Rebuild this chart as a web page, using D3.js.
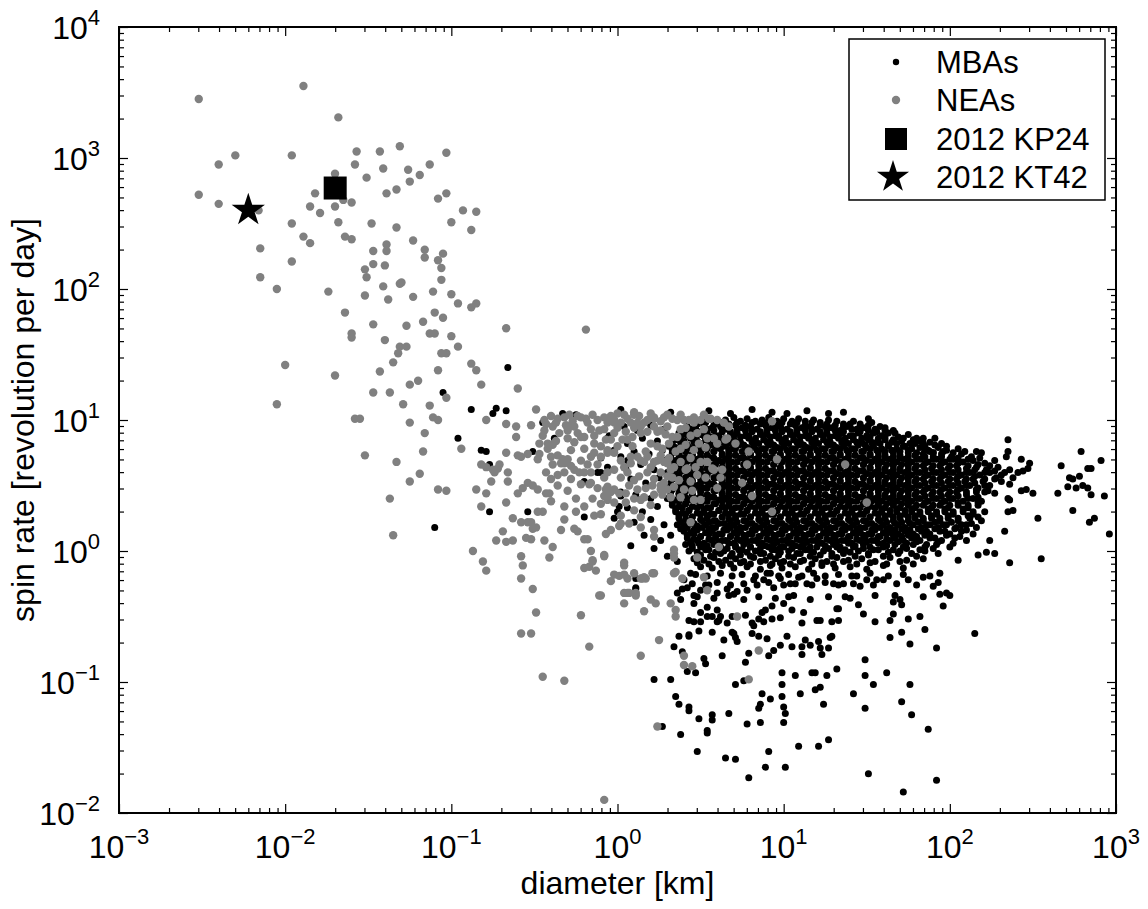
<!DOCTYPE html>
<html>
<head>
<meta charset="utf-8">
<script src="https://cdn.jsdelivr.net/npm/d3@7"></script>
<style>
body { margin: 0; background: #fff; }
text { font-family: "Liberation Sans", Arial, Helvetica, sans-serif; fill: #000; }
</style>
</head>
<body>
<svg id="drawing_region"></svg>
<script>
// values, stored as [log10 diameter (km), log10 spin rate (rev/day)]
const neaLog = [
[-2.52,3.45],[-1.89,3.55],[-1.68,3.31],[-2.30,3.02],[-2.40,2.95],[-1.96,3.02],[-2.52,2.72],[-2.40,2.65],[-2.16,2.60],[-1.70,2.88],[-1.57,3.05],[-1.43,3.05],[-1.58,2.95],[-1.41,2.92],[-1.51,2.85],[-1.39,2.73],[-1.33,2.76],[-1.31,3.09],[-1.82,2.73],[-1.65,2.68],[-1.60,2.66],[-1.85,2.63],[-1.79,2.58],[-1.70,2.63],[-1.96,2.50],[-1.68,2.51],[-1.89,2.40],[-1.85,2.35],[-1.64,2.40],[-1.60,2.38],[-1.48,2.50],[-1.33,2.47],[-2.15,2.31],[-1.39,2.34],[-1.47,2.29],[-1.39,2.29],[-1.96,2.21],[-1.47,2.19],[-1.40,2.18],[-1.52,2.15],[-1.51,2.09],[-2.15,2.09],[-2.05,2.00],[-1.74,1.98],[-1.41,2.02],[-1.52,1.95],[-1.31,2.04],
[-1.03,3.04],[-1.13,2.95],[-1.26,2.91],[-1.19,2.87],[-1.25,2.82],[-1.08,2.69],[-1.03,2.73],[-0.93,2.60],[-0.85,2.59],[-1.00,2.51],[-0.88,2.45],[-1.23,2.37],[-1.16,2.30],[-1.05,2.27],[-1.16,2.24],[-1.08,2.22],[-1.06,2.16],[-1.06,2.07],[-1.30,2.05],[-1.11,1.98],[-1.00,1.96],[-0.96,1.89],[-0.88,1.86],[-0.85,1.89],[-1.23,1.94],[-1.38,1.92],[-1.64,1.82],[-1.47,1.73],[-1.60,1.66],[-1.60,1.63],[-1.40,1.61],[-1.27,1.72],[-1.17,1.75],[-1.10,1.82],[-1.05,1.78],[-1.13,1.66],[-1.10,1.66],[-1.00,1.64],[-0.96,1.56],[-1.31,1.56],[-1.27,1.56],[-1.32,1.51],[-1.06,1.51],[-1.03,1.51],[-1.35,1.44],[-1.43,1.37],[-1.08,1.38],[-0.88,1.43],[-0.85,1.38],[-0.82,1.27],[-2.00,1.42],[-1.70,1.34],[-1.25,1.27],[-1.20,1.30],[-1.47,1.21],[-1.37,1.21],[-2.05,1.12],[-1.29,1.12],[-1.13,1.11],[-1.03,1.17],[-1.58,1.01],[-1.55,1.01],[-1.11,1.02],[-1.08,1.00],[-0.79,1.00],[-1.25,0.98],[-1.16,0.90],[-0.94,0.78],[-0.82,0.66],[-0.79,0.64],[-0.75,0.62],[-1.17,0.76],[-1.52,0.73],[-1.33,0.68],[-1.19,0.59],[-1.25,0.53],[-0.76,0.53],[-1.08,0.47],[-1.03,0.46],[-0.85,0.47],[-0.79,0.44],[-1.37,0.40],[-0.82,0.34],[-1.35,0.12],[-0.73,0.08],[-0.87,0.00],[-0.81,-0.08],[-0.79,-0.15],
[-0.19,1.69],[-0.67,1.70],[-0.60,1.24],[-0.49,1.08],[-0.71,0.66],[-0.72,0.63],[-0.74,0.60],[-0.67,0.75],[-0.67,0.97],[-0.61,0.95],[-0.52,0.96],[-0.61,0.87],[-0.66,0.60],[-0.66,0.53],[-0.60,0.73],[-0.58,0.72],[-0.54,0.74],[-0.67,0.37],[-0.60,0.44],[-0.57,0.48],[-0.54,0.52],[-0.51,0.50],[-0.48,0.47],[-0.43,0.44],[-0.41,0.44],[-0.63,0.25],[-0.58,0.22],[-0.54,0.22],[-0.52,0.22],[-0.49,0.18],[-0.51,0.17],[-0.48,0.30],[-0.45,0.30],[-0.69,0.15],[-0.67,0.07],[-0.63,0.08],[-0.55,0.10],[-0.52,0.09],[-0.44,0.08],[-0.39,0.03],[-0.41,-0.05],[-0.58,-0.04],[-0.57,-0.11],[-0.58,-0.21],[-0.51,-0.29],
[-0.32,0.24],[-0.26,0.17],[-0.24,0.15],[-0.20,0.09],[-0.18,0.09],[-0.34,0.16],[-0.16,0.00],[-0.15,-0.07],[-0.08,-0.04],[-0.20,-0.13],[-0.17,-0.12],[-0.10,-0.34],[-0.04,-0.23],[0.01,-0.19],[0.04,-0.11],[0.07,-0.32],[0.11,-0.32],[0.14,-0.21],[0.17,-0.21],[0.22,-0.17],[-0.07,0.13],[-0.04,0.16],[0.01,0.19],[0.07,0.21],[-0.20,0.34],[-0.14,0.27],[-0.10,0.36],[-0.06,0.39],[-0.04,0.45],[-0.08,0.42],[0.01,0.44],[-0.02,0.47],[0.05,0.37],[0.14,0.39],[-0.07,0.47],[-0.17,0.51],[-0.22,0.51],[-0.16,0.52],[-0.23,0.60],[-0.20,0.60],[-0.16,0.60],[-0.32,0.60],[-0.34,0.67],[-0.28,0.65],[-0.26,0.62],[-0.43,0.60],[-0.39,0.66],[-0.36,0.58],[-0.32,0.67],[-0.48,0.70],[-0.47,0.74],[-0.40,0.72],[-0.42,0.78],[-0.39,0.81],[-0.36,0.73],[-0.33,0.70],[-0.47,0.82],[-0.42,0.82],[-0.43,0.97],[-0.39,0.95],[-0.37,0.98],[-0.31,0.96],[-0.29,0.95],[-0.26,0.95],[-0.26,0.83],[-0.22,0.87],[-0.20,0.87],[-0.32,1.02],[-0.29,1.04],[-0.22,1.02],[-0.18,0.98],[-0.11,0.92],[-0.06,0.98],[-0.02,0.98],[0.02,0.98],[0.08,0.98],[0.12,0.98],[0.14,0.95],[-0.07,0.85],[-0.04,0.85],[0.03,0.85],[0.09,0.87],[0.10,1.04],[0.18,1.00],[0.22,1.02],[0.30,1.04],[0.36,1.00],[0.46,1.02],[-0.22,0.69],[-0.16,0.72],[-0.10,0.72],[-0.06,0.75],[-0.06,0.60],[-0.02,0.62],[0.04,0.64],[0.08,0.67],[0.14,0.69],[0.18,0.72],[0.24,0.69],[0.30,0.67],
[0.26,0.92],[0.33,0.87],[0.41,0.94],[0.48,0.90],[0.20,0.82],[0.27,0.78],[0.35,0.76],[0.44,0.71],[0.50,0.68],[0.57,0.63],[0.63,0.62],[0.41,0.62],[0.33,0.56],[0.44,0.53],[0.53,0.56],[0.26,0.50],[0.17,0.48],[0.20,0.35],[0.27,0.43],[0.10,0.31],[0.02,0.27],
[0.79,0.76],[0.78,0.66],[0.96,0.70],[0.75,0.52],[0.81,0.42],[0.93,0.30],[0.71,0.82],[0.65,0.85],[0.60,0.82],[0.54,0.86],[0.49,0.82],[0.67,0.95],[0.55,1.01],[0.50,1.00],[0.93,0.99],
[0.14,0.26],[0.02,0.21],[0.04,-0.09],[-0.08,-0.03],[0.34,0.01],[0.34,-0.05],[0.48,-0.05],[0.61,0.03],[0.44,0.22],[0.22,0.16],[0.22,0.11],[0.14,0.18],[-0.06,0.49],[-0.06,0.41],[-0.02,0.37],[0.16,0.41],[0.26,0.47],[0.30,0.47],[0.28,0.52],[0.40,0.47],[0.38,0.41],[0.46,0.39],[0.50,0.39],[0.60,0.48],
[0.02,0.56],[0.10,0.54],[0.18,0.60],[0.26,0.60],[0.34,0.64],[0.42,0.63],[0.58,0.62],[0.62,0.56],
[-0.08,1.02],[-0.02,1.00],[0.04,1.04],[0.10,1.06],[0.16,0.98],[0.22,1.01],[0.28,1.02],[0.30,0.95],[0.14,0.90],[0.24,0.91],[0.36,0.87],[0.41,0.81],[-0.02,0.90],[0.06,0.85],[-0.06,0.77],[-0.02,0.75],[0.12,0.72],[0.16,0.68],[0.22,0.68],[0.28,0.68],[0.32,0.62],
[0.64,0.98],[0.56,1.01],[0.46,0.98],[0.40,1.00],[0.58,0.86],[0.66,0.86],[1.37,0.66],[1.50,0.37],
[-0.02,-0.18],[0.04,-0.18],[0.06,-0.21],[0.10,-0.17],[0.15,-0.21],[0.21,-0.17],[0.16,-0.20],[0.04,-0.32],[0.06,-0.32],[0.11,-0.34],[0.04,-0.40],[0.20,-0.37],[0.23,-0.40],[0.16,-0.46],[0.32,-0.40],[0.35,-0.45],[0.35,-0.50],[0.25,-0.68],[0.14,-0.80],[0.40,-0.80],[0.40,-0.87],[0.45,-0.88],[0.24,-1.34],[-0.08,-1.90],[0.72,-0.50],[0.54,-0.30],[0.52,-0.20],[0.34,-0.17],[0.39,-0.21],[0.85,-0.76],[0.79,-0.98],
[-0.49,-0.47],[-0.58,-0.63],[-0.52,-0.63],[-0.45,-0.96],[-0.32,-0.99],[-0.22,-0.49],[-0.17,-0.73],[-0.11,-0.34],[-0.15,-0.08],[-0.13,-0.15],[0.34,-0.02],[0.35,-0.16]
];

// NEAs packed along the ~10 rev/day barrier and the band below it
const neaBandLog = [
[-0.44,1.00],[-0.40,1.03],[-0.36,1.01],[-0.27,0.99],[-0.24,1.03],[-0.19,1.01],[-0.15,1.04],[-0.12,1.00],[-0.04,1.03],[0.00,1.05],[0.06,1.01],[0.13,1.03],[0.20,1.05],[0.26,0.99],[0.33,1.01],[0.38,1.04],[0.43,1.00],[0.52,1.04],[0.60,1.00],
[-0.44,0.92],[-0.35,0.90],[-0.30,0.92],[-0.24,0.90],[-0.16,0.93],[-0.14,0.88],[-0.08,0.93],[0.00,0.94],[0.05,0.91],[0.10,0.94],[0.18,0.91],[0.22,0.95],[0.29,0.89],[0.38,0.93],[0.44,0.88],[0.52,0.93],
[0.00,0.80],[0.09,0.80],[0.17,0.76],[0.24,0.80],[0.31,0.82],[0.38,0.78],[0.46,0.77],[0.53,0.79],[0.02,0.69],[0.08,0.72],[0.20,0.64],[0.26,0.73],[0.31,0.71],[0.38,0.68],[0.47,0.64],[0.54,0.68],[0.06,0.60],[0.13,0.57],[0.22,0.55],[0.30,0.57],[0.37,0.54],[0.48,0.58],[0.07,0.50],[0.12,0.47],[0.21,0.50],[0.34,0.49],[0.45,0.46],[0.05,0.44],[0.10,0.40],[0.22,0.43],[0.32,0.41],
[-0.45,0.88],[-0.37,0.84],[-0.30,0.86],[-0.14,0.82],[-0.10,0.80],[-0.28,0.77],[-0.20,0.78],[-0.14,0.75],[-0.30,0.70],[-0.18,0.66],[-0.12,0.66],[-0.08,0.56],[-0.28,0.55],[-0.40,0.55],[-0.12,0.48],[-0.30,0.46],[-0.36,0.50],[-0.25,0.40],[-0.15,0.40],[-0.32,0.34],[-0.25,0.30],[-0.10,0.28],[-0.40,0.38]
];

// scattered MBAs away from the main cloud
const mbaSparseLog = [
[-1.05,1.21],[-0.88,1.08],[-0.75,1.05],[-0.73,1.09],[-0.67,1.07],[-0.96,0.86],[-0.82,0.77],[-0.79,0.76],[-0.77,0.66],[-0.77,0.30],[-1.10,0.18],[-0.54,0.30],[-0.66,1.40],[-0.51,0.76],[-0.33,1.05],[-0.25,1.04],[-0.45,0.98],[-0.38,0.86],[-0.20,0.53],[-0.20,0.26],[0.02,0.42],[0.00,0.30],[0.01,0.34],[0.11,-0.21],[0.11,-0.29],[0.02,1.08],[-0.06,0.86],[-0.10,0.71],[-0.12,0.60],[-0.02,0.77],[-0.06,0.64],[0.06,0.69],[0.27,-1.34],
[0.11,-0.28],[0.22,-0.98],[0.32,-0.98],[0.34,-0.73],[0.37,-0.65],[0.43,-0.65],[0.39,-0.77],[0.43,-0.53],[0.38,-0.37],[0.36,-0.32],[0.39,-0.29],[0.42,-0.92],[0.47,-0.93],[0.52,-0.82],[0.53,-0.86],[0.35,-1.11],[0.37,-1.17],[0.43,-1.19],[0.43,-1.22],[0.49,-1.28],[0.57,-1.25],[0.57,-1.29],[0.54,-1.37],[0.54,-1.39],[0.38,-1.40],[0.48,-1.53],[0.65,-1.58],[0.71,-1.59],[0.79,-1.73],[0.89,-1.65],[1.01,-1.65],[0.91,-1.53],[1.09,-1.49],[1.21,-1.49],[1.27,-1.44],[0.86,-1.31],[0.67,-1.24],[0.78,-1.32],[1.00,-1.31],[1.01,-1.24],[1.00,-1.19],[0.85,-1.20],[0.86,-1.17],[0.87,-1.09],[0.92,-1.13],[0.99,-1.11],[0.99,-1.02],[0.99,-0.93],[1.07,-0.95],[1.10,-1.09],[1.19,-1.06],[1.22,-1.04],[1.24,-1.17],[1.17,-0.93],[1.19,-0.93],[1.26,-0.95],[1.32,-0.90],[1.42,-1.09],[1.49,-0.83],[1.49,-0.95],[1.54,-1.02],[1.49,-1.20],[1.62,-0.93],[1.71,-1.15],[1.76,-1.02],[1.77,-1.25],[1.87,-1.36],[1.92,-1.75],[1.72,-1.84],[1.51,-1.70],
[0.71,-1.02],[0.76,-0.99],[0.77,-0.85],[0.63,-0.80],[0.79,-0.78],[0.91,-0.80],[0.94,-0.76],[0.98,-0.72],[1.05,-0.73],[1.11,-0.73],[1.16,-0.72],[1.11,-0.79],[1.22,-0.74],[1.23,-0.79],[1.27,-0.74],[1.28,-0.66],[1.29,-0.65],[1.13,-0.68],[1.21,-0.69],[1.02,-0.65],[0.90,-0.67],[0.85,-0.65],[0.81,-0.63],[0.72,-0.69],[0.71,-0.66],[0.64,-0.68],[0.70,-0.63],[0.69,-0.62],[0.57,-0.62],[0.49,-0.61],[0.43,-0.64],[0.60,-0.54],[0.61,-0.53],[0.62,-0.50],[0.66,-0.55],[0.69,-0.50],[0.72,-0.50],[0.77,-0.49],[0.81,-0.55],[0.82,-0.57],[0.85,-0.52],[0.87,-0.47],[0.88,-0.54],[0.89,-0.45],[0.93,-0.52],[0.93,-0.42],[0.98,-0.51],[1.00,-0.40],[1.03,-0.35],[1.05,-0.45],[1.12,-0.47],[1.11,-0.55],[1.20,-0.53],[1.22,-0.53],[1.29,-0.54],[1.33,-0.53],[1.32,-0.44],[1.33,-0.44],[1.37,-0.35],[1.46,-0.27],[1.45,-0.41],[1.48,-0.48],[1.55,-0.54],[1.64,-0.53],[1.66,-0.48],[1.67,-0.34],[1.66,-0.39],[1.71,-0.41],[1.75,-0.52],[1.76,-0.71],[1.82,-0.50],[1.85,-0.60],[1.92,-0.74],[1.94,-0.33],[1.96,-0.42],[1.98,-0.32],[1.75,-0.22],[1.84,-0.20],[1.88,-0.19],[1.90,-0.27],[1.94,-0.17],[1.64,-0.66],[1.71,-0.62],
[1.44,-0.19],[1.50,-0.22],[1.56,-0.22],[1.60,-0.22],[1.36,-0.25],[1.30,-0.25],[1.20,-0.21],[1.14,-0.25],[1.09,-0.20],[1.04,-0.25],[0.98,-0.21],[0.94,-0.28],[0.92,-0.17],[0.88,-0.22],[0.82,-0.22],[0.78,-0.30],[0.72,-0.31],[0.66,-0.29],[0.70,-0.33],[0.60,-0.32],[0.55,-0.26],[0.50,-0.30],[0.46,-0.34],[0.42,-0.28],[0.40,-0.22],[0.44,-0.17],[0.46,-0.40],[0.50,-0.47],[0.54,-0.43],[0.54,-0.50],[0.50,-0.54],[0.46,-0.54],[0.57,-0.50],[0.60,-0.45],
[1.61,0.94],[1.91,0.86],[1.84,0.82],[1.88,0.76],[1.90,0.75],[2.35,0.85],[2.16,0.76],[2.19,0.75],[2.35,0.76],[2.34,0.72],[2.43,0.70],[2.48,0.67],[2.47,0.63],[2.44,0.61],[2.41,0.60],[2.38,0.56],[2.36,0.51],[2.31,0.53],[2.43,0.46],[2.46,0.47],[2.50,0.44],[2.67,0.65],[2.79,0.76],[2.91,0.69],[2.72,0.56],[2.74,0.55],[2.78,0.57],[2.83,0.63],[2.85,0.63],[2.71,0.49],[2.76,0.48],[2.80,0.50],[2.83,0.48],[2.65,0.44],[2.85,0.43],[2.93,0.42],[2.74,0.31],[2.53,0.25],[2.84,0.22],[2.87,0.25],[2.96,0.13],[2.33,0.15],[2.55,-0.06],[2.36,-0.09],[2.27,-0.02],[2.22,-0.01],[2.17,-0.03],[2.35,0.30],[2.38,0.31],[2.35,0.40],[2.36,0.39],[2.27,0.44],[2.23,0.46],[2.15,-0.63],[2.24,0.08],[2.05,-0.07],[2.00,-0.34],[1.93,-0.24],
[0.04,0.95],[0.12,0.92],[0.20,0.96],[0.28,0.93],[0.06,0.82],[0.15,0.86],[0.24,0.84],[0.02,0.72],[0.10,0.76],[0.19,0.74],[0.27,0.77],[0.05,0.63],[0.14,0.66],[0.22,0.62],[0.08,0.55],[0.17,0.52],[0.25,0.56],[0.02,0.45],[0.11,0.43],[0.20,0.40],[0.27,0.45],[0.06,0.33],[0.15,0.30],[0.24,0.34],[0.10,0.22],[0.20,0.24],[0.28,0.20],[0.16,0.12],[0.26,0.08],[0.32,0.12],[0.22,0.02],[0.30,-0.04],[0.36,-0.08],[-0.05,0.88],[-0.10,0.60],[-0.02,0.25],[0.08,0.04]
];

// the dense MBA cloud, read row by row from top to bottom
const mbaCloudLog = [
[0.32,1.06],[0.55,1.07],[0.68,1.05],[0.81,1.08],[0.93,1.06],[1.02,1.05],[1.14,1.07],[1.27,1.05],[1.36,1.06],[1.51,1.01],
[0.46,1.00],[0.51,0.99],[0.56,1.01],[0.60,0.98],[0.65,1.00],[0.70,1.02],[0.74,0.99],[0.78,1.01],[0.83,0.99],[0.87,1.00],[0.91,1.02],[0.96,0.99],[1.00,1.01],[1.05,0.99],[1.09,1.01],[1.13,0.99],[1.18,1.00],[1.22,0.98],[1.27,1.00],[1.32,0.99],[1.36,0.97],[1.42,0.99],[1.46,0.97],[1.53,0.98],
[0.42,0.95],[0.47,0.94],[0.52,0.96],[0.57,0.94],[0.62,0.95],[0.66,0.93],[0.71,0.96],[0.75,0.94],[0.80,0.95],[0.84,0.93],[0.89,0.96],[0.93,0.94],[0.98,0.95],[1.02,0.93],[1.07,0.96],[1.11,0.94],[1.16,0.95],[1.20,0.93],[1.25,0.95],[1.29,0.94],[1.34,0.92],[1.38,0.95],[1.44,0.93],[1.48,0.94],[1.55,0.93],[1.58,0.95],[1.66,0.92],
[0.37,0.90],[0.41,0.89],[0.45,0.91],[0.50,0.89],[0.54,0.90],[0.59,0.88],[0.63,0.91],[0.68,0.89],[0.72,0.90],[0.77,0.88],[0.81,0.91],[0.86,0.89],[0.90,0.90],[0.95,0.88],[0.99,0.91],[1.04,0.89],[1.08,0.90],[1.13,0.88],[1.17,0.91],[1.22,0.89],[1.26,0.90],[1.31,0.88],[1.35,0.90],[1.40,0.88],[1.45,0.90],[1.50,0.88],[1.54,0.90],[1.59,0.88],[1.63,0.90],[1.69,0.87],[1.75,0.89],[1.80,0.86],
[0.36,0.85],[0.40,0.84],[0.44,0.86],[0.48,0.84],[0.53,0.85],[0.57,0.83],[0.61,0.86],[0.66,0.84],[0.70,0.85],[0.74,0.83],[0.79,0.86],[0.83,0.84],[0.88,0.85],[0.92,0.83],[0.97,0.86],[1.01,0.84],[1.06,0.85],[1.10,0.83],[1.15,0.86],[1.19,0.84],[1.24,0.85],[1.28,0.83],[1.33,0.86],[1.37,0.84],[1.42,0.85],[1.47,0.83],[1.51,0.85],[1.56,0.83],[1.61,0.85],[1.65,0.83],[1.71,0.84],[1.76,0.82],[1.82,0.84],[1.88,0.83],[1.95,0.82],
[0.31,0.80],[0.35,0.79],[0.39,0.81],[0.43,0.79],[0.47,0.80],[0.52,0.78],[0.56,0.81],[0.60,0.79],[0.65,0.80],[0.69,0.78],[0.73,0.81],[0.78,0.79],[0.82,0.80],[0.87,0.78],[0.91,0.81],[0.96,0.79],[1.00,0.80],[1.05,0.78],[1.09,0.81],[1.14,0.79],[1.18,0.80],[1.23,0.78],[1.27,0.81],[1.32,0.79],[1.36,0.80],[1.41,0.78],[1.45,0.81],[1.50,0.79],[1.54,0.80],[1.59,0.78],[1.63,0.80],[1.68,0.78],[1.72,0.80],[1.77,0.78],[1.82,0.79],[1.87,0.77],[1.93,0.79],[1.98,0.77],[2.05,0.78],
[0.33,0.75],[0.37,0.74],[0.41,0.76],[0.45,0.74],[0.50,0.75],[0.54,0.73],[0.58,0.76],[0.63,0.74],[0.67,0.75],[0.71,0.73],[0.76,0.76],[0.80,0.74],[0.85,0.75],[0.89,0.73],[0.94,0.76],[0.98,0.74],[1.03,0.75],[1.07,0.73],[1.12,0.76],[1.16,0.74],[1.21,0.75],[1.25,0.73],[1.30,0.76],[1.34,0.74],[1.39,0.75],[1.43,0.73],[1.48,0.76],[1.52,0.74],[1.57,0.75],[1.61,0.73],[1.66,0.75],[1.70,0.73],[1.75,0.75],[1.79,0.73],[1.84,0.74],[1.90,0.72],[1.95,0.74],[2.01,0.72],[2.07,0.74],[2.13,0.72],
[0.30,0.70],[0.35,0.69],[0.39,0.71],[0.43,0.69],[0.48,0.70],[0.52,0.68],[0.56,0.71],[0.61,0.69],[0.65,0.70],[0.69,0.68],[0.74,0.71],[0.78,0.69],[0.83,0.70],[0.87,0.68],[0.92,0.71],[0.96,0.69],[1.01,0.70],[1.05,0.68],[1.10,0.71],[1.14,0.69],[1.19,0.70],[1.23,0.68],[1.28,0.71],[1.32,0.69],[1.37,0.70],[1.41,0.68],[1.46,0.71],[1.50,0.69],[1.55,0.70],[1.59,0.68],[1.64,0.70],[1.68,0.68],[1.73,0.70],[1.77,0.68],[1.82,0.70],[1.87,0.68],[1.92,0.70],[1.97,0.68],[2.02,0.70],[2.08,0.68],[2.14,0.69],[2.21,0.67],[2.27,0.69],
[0.32,0.65],[0.37,0.64],[0.41,0.66],[0.45,0.64],[0.50,0.65],[0.54,0.63],[0.58,0.66],[0.63,0.64],[0.67,0.65],[0.71,0.63],[0.76,0.66],[0.80,0.64],[0.85,0.65],[0.89,0.63],[0.94,0.66],[0.98,0.64],[1.03,0.65],[1.07,0.63],[1.12,0.66],[1.16,0.64],[1.21,0.65],[1.25,0.63],[1.30,0.66],[1.34,0.64],[1.39,0.65],[1.43,0.63],[1.48,0.66],[1.52,0.64],[1.57,0.65],[1.61,0.63],[1.66,0.65],[1.70,0.63],[1.75,0.65],[1.79,0.63],[1.84,0.65],[1.89,0.63],[1.94,0.65],[1.99,0.63],[2.04,0.65],[2.10,0.63],[2.16,0.64],[2.22,0.62],[2.29,0.64],[2.36,0.62],
[0.30,0.60],[0.35,0.59],[0.39,0.61],[0.43,0.59],[0.48,0.60],[0.52,0.58],[0.56,0.61],[0.61,0.59],[0.65,0.60],[0.69,0.58],[0.74,0.61],[0.78,0.59],[0.83,0.60],[0.87,0.58],[0.92,0.61],[0.96,0.59],[1.01,0.60],[1.05,0.58],[1.10,0.61],[1.14,0.59],[1.19,0.60],[1.23,0.58],[1.28,0.61],[1.32,0.59],[1.37,0.60],[1.41,0.58],[1.46,0.61],[1.50,0.59],[1.55,0.60],[1.59,0.58],[1.64,0.60],[1.68,0.58],[1.73,0.60],[1.77,0.58],[1.82,0.60],[1.87,0.58],[1.92,0.60],[1.97,0.58],[2.02,0.60],[2.07,0.58],[2.12,0.60],[2.18,0.58],[2.24,0.60],[2.31,0.58],
[0.33,0.55],[0.37,0.54],[0.41,0.56],[0.45,0.54],[0.50,0.55],[0.54,0.53],[0.58,0.56],[0.63,0.54],[0.67,0.55],[0.71,0.53],[0.76,0.56],[0.80,0.54],[0.85,0.55],[0.89,0.53],[0.94,0.56],[0.98,0.54],[1.03,0.55],[1.07,0.53],[1.12,0.56],[1.16,0.54],[1.21,0.55],[1.25,0.53],[1.30,0.56],[1.34,0.54],[1.39,0.55],[1.43,0.53],[1.48,0.56],[1.52,0.54],[1.57,0.55],[1.61,0.53],[1.66,0.55],[1.70,0.53],[1.75,0.55],[1.79,0.53],[1.84,0.55],[1.89,0.53],[1.94,0.55],[1.99,0.53],[2.04,0.55],[2.09,0.53],[2.14,0.55],[2.20,0.53],[2.27,0.55],
[0.30,0.50],[0.35,0.49],[0.39,0.51],[0.43,0.49],[0.48,0.50],[0.52,0.48],[0.56,0.51],[0.61,0.49],[0.65,0.50],[0.69,0.48],[0.74,0.51],[0.78,0.49],[0.83,0.50],[0.87,0.48],[0.92,0.51],[0.96,0.49],[1.01,0.50],[1.05,0.48],[1.10,0.51],[1.14,0.49],[1.19,0.50],[1.23,0.48],[1.28,0.51],[1.32,0.49],[1.37,0.50],[1.41,0.48],[1.46,0.51],[1.50,0.49],[1.55,0.50],[1.59,0.48],[1.64,0.50],[1.68,0.48],[1.73,0.50],[1.77,0.48],[1.82,0.50],[1.87,0.48],[1.92,0.50],[1.97,0.48],[2.02,0.50],[2.07,0.48],[2.12,0.50],[2.17,0.48],[2.24,0.50],
[0.32,0.45],[0.37,0.44],[0.41,0.46],[0.45,0.44],[0.50,0.45],[0.54,0.43],[0.58,0.46],[0.63,0.44],[0.67,0.45],[0.71,0.43],[0.76,0.46],[0.80,0.44],[0.85,0.45],[0.89,0.43],[0.94,0.46],[0.98,0.44],[1.03,0.45],[1.07,0.43],[1.12,0.46],[1.16,0.44],[1.21,0.45],[1.25,0.43],[1.30,0.46],[1.34,0.44],[1.39,0.45],[1.43,0.43],[1.48,0.46],[1.52,0.44],[1.57,0.45],[1.61,0.43],[1.66,0.45],[1.70,0.43],[1.75,0.45],[1.79,0.43],[1.84,0.45],[1.89,0.43],[1.94,0.45],[1.99,0.43],[2.04,0.45],[2.10,0.43],[2.16,0.45],
[0.30,0.40],[0.35,0.39],[0.39,0.41],[0.43,0.39],[0.48,0.40],[0.52,0.38],[0.56,0.41],[0.61,0.39],[0.65,0.40],[0.69,0.38],[0.74,0.41],[0.78,0.39],[0.83,0.40],[0.87,0.38],[0.92,0.41],[0.96,0.39],[1.01,0.40],[1.05,0.38],[1.10,0.41],[1.14,0.39],[1.19,0.40],[1.23,0.38],[1.28,0.41],[1.32,0.39],[1.37,0.40],[1.41,0.38],[1.46,0.41],[1.50,0.39],[1.55,0.40],[1.59,0.38],[1.64,0.40],[1.68,0.38],[1.73,0.40],[1.77,0.38],[1.82,0.40],[1.87,0.38],[1.92,0.40],[1.97,0.38],[2.02,0.40],[2.08,0.38],[2.14,0.40],[2.19,0.38],
[0.33,0.35],[0.37,0.34],[0.41,0.36],[0.45,0.34],[0.50,0.35],[0.54,0.33],[0.58,0.36],[0.63,0.34],[0.67,0.35],[0.71,0.33],[0.76,0.36],[0.80,0.34],[0.85,0.35],[0.89,0.33],[0.94,0.36],[0.98,0.34],[1.03,0.35],[1.07,0.33],[1.12,0.36],[1.16,0.34],[1.21,0.35],[1.25,0.33],[1.30,0.36],[1.34,0.34],[1.39,0.35],[1.43,0.33],[1.48,0.36],[1.52,0.34],[1.57,0.35],[1.61,0.33],[1.66,0.35],[1.70,0.33],[1.75,0.35],[1.79,0.33],[1.84,0.35],[1.89,0.33],[1.94,0.35],[1.99,0.33],[2.05,0.35],[2.11,0.33],[2.17,0.35],
[0.35,0.30],[0.39,0.29],[0.43,0.31],[0.48,0.29],[0.52,0.30],[0.56,0.28],[0.61,0.31],[0.65,0.29],[0.69,0.30],[0.74,0.28],[0.78,0.31],[0.83,0.29],[0.87,0.30],[0.92,0.28],[0.96,0.31],[1.01,0.29],[1.05,0.30],[1.10,0.28],[1.14,0.31],[1.19,0.29],[1.23,0.30],[1.28,0.28],[1.32,0.31],[1.37,0.29],[1.41,0.30],[1.46,0.28],[1.50,0.31],[1.55,0.29],[1.59,0.30],[1.64,0.28],[1.68,0.30],[1.73,0.28],[1.77,0.30],[1.82,0.28],[1.87,0.30],[1.92,0.28],[1.97,0.30],[2.02,0.28],[2.08,0.30],[2.14,0.28],[2.21,0.30],
[0.37,0.25],[0.41,0.24],[0.45,0.26],[0.50,0.24],[0.54,0.25],[0.58,0.23],[0.63,0.26],[0.67,0.24],[0.71,0.25],[0.76,0.23],[0.80,0.26],[0.85,0.24],[0.89,0.25],[0.94,0.23],[0.98,0.26],[1.03,0.24],[1.07,0.25],[1.12,0.23],[1.16,0.26],[1.21,0.24],[1.25,0.25],[1.30,0.23],[1.34,0.26],[1.39,0.24],[1.43,0.25],[1.48,0.23],[1.52,0.26],[1.57,0.24],[1.61,0.25],[1.66,0.23],[1.70,0.25],[1.75,0.23],[1.79,0.25],[1.84,0.23],[1.89,0.25],[1.94,0.23],[1.99,0.25],[2.05,0.23],[2.12,0.25],[2.19,0.23],
[0.36,0.20],[0.40,0.19],[0.44,0.21],[0.48,0.19],[0.53,0.20],[0.57,0.18],[0.61,0.21],[0.66,0.19],[0.70,0.20],[0.74,0.18],[0.79,0.21],[0.83,0.19],[0.88,0.20],[0.92,0.18],[0.97,0.21],[1.01,0.19],[1.06,0.20],[1.10,0.18],[1.15,0.21],[1.19,0.19],[1.24,0.20],[1.28,0.18],[1.33,0.21],[1.37,0.19],[1.42,0.20],[1.46,0.18],[1.51,0.21],[1.55,0.19],[1.60,0.20],[1.64,0.18],[1.69,0.20],[1.73,0.18],[1.78,0.20],[1.83,0.18],[1.88,0.20],[1.93,0.18],[1.98,0.20],[2.04,0.18],[2.10,0.20],[2.16,0.18],
[0.40,0.15],[0.44,0.14],[0.48,0.16],[0.53,0.14],[0.57,0.15],[0.61,0.13],[0.66,0.16],[0.70,0.14],[0.74,0.15],[0.79,0.13],[0.83,0.16],[0.88,0.14],[0.92,0.15],[0.97,0.13],[1.01,0.16],[1.06,0.14],[1.10,0.15],[1.15,0.13],[1.19,0.16],[1.24,0.14],[1.28,0.15],[1.33,0.13],[1.37,0.16],[1.42,0.14],[1.46,0.15],[1.51,0.13],[1.55,0.16],[1.60,0.14],[1.64,0.15],[1.69,0.13],[1.73,0.15],[1.78,0.13],[1.83,0.15],[1.88,0.13],[1.94,0.15],[2.00,0.13],[2.07,0.15],[2.14,0.13],
[0.42,0.10],[0.46,0.09],[0.50,0.11],[0.55,0.09],[0.59,0.10],[0.63,0.08],[0.68,0.11],[0.72,0.09],[0.77,0.10],[0.81,0.08],[0.86,0.11],[0.90,0.09],[0.95,0.10],[0.99,0.08],[1.04,0.11],[1.08,0.09],[1.13,0.10],[1.17,0.08],[1.22,0.11],[1.26,0.09],[1.31,0.10],[1.35,0.08],[1.40,0.11],[1.44,0.09],[1.49,0.10],[1.53,0.08],[1.58,0.11],[1.62,0.09],[1.67,0.10],[1.72,0.08],[1.77,0.10],[1.82,0.08],[1.88,0.10],[1.95,0.08],[2.03,0.10],[2.10,0.08],
[0.41,0.05],[0.45,0.04],[0.49,0.06],[0.54,0.04],[0.58,0.05],[0.62,0.03],[0.67,0.06],[0.71,0.04],[0.76,0.05],[0.80,0.03],[0.85,0.06],[0.89,0.04],[0.94,0.05],[0.98,0.03],[1.03,0.06],[1.07,0.04],[1.12,0.05],[1.16,0.03],[1.21,0.06],[1.25,0.04],[1.30,0.05],[1.34,0.03],[1.39,0.06],[1.43,0.04],[1.48,0.05],[1.52,0.03],[1.57,0.06],[1.62,0.04],[1.67,0.05],[1.72,0.03],[1.78,0.05],[1.85,0.03],[1.92,0.05],[2.00,0.03],
[0.43,0.00],[0.48,-0.01],[0.53,0.01],[0.59,-0.01],[0.64,0.00],[0.69,-0.02],[0.73,0.01],[0.78,-0.01],[0.83,0.00],[0.88,-0.02],[0.93,0.01],[0.98,-0.01],[1.03,0.00],[1.08,-0.02],[1.13,0.01],[1.18,-0.01],[1.24,0.00],[1.29,-0.02],[1.34,0.01],[1.40,-0.01],[1.45,0.00],[1.51,-0.02],[1.57,0.01],[1.63,-0.01],[1.70,0.00],[1.77,-0.02],[1.85,0.00],[1.93,-0.02],
[0.46,-0.06],[0.52,-0.07],[0.58,-0.05],[0.65,-0.07],[0.71,-0.06],[0.76,-0.08],[0.82,-0.05],[0.89,-0.07],[0.95,-0.06],[1.00,-0.08],[1.06,-0.05],[1.12,-0.07],[1.19,-0.06],[1.26,-0.08],[1.32,-0.05],[1.39,-0.07],[1.47,-0.06],[1.55,-0.08],[1.64,-0.05],[1.74,-0.07],[1.84,-0.06],
[0.50,-0.12],[0.57,-0.13],[0.63,-0.11],[0.70,-0.13],[0.78,-0.12],[0.86,-0.14],[0.92,-0.11],[0.99,-0.13],[1.07,-0.12],[1.15,-0.14],[1.23,-0.11],[1.31,-0.13],[1.40,-0.12],[1.50,-0.14],[1.60,-0.11],[1.72,-0.13]
];

// second pass over the cloud, the points lying between the rows above
const mbaCloudFillLog = [
[0.48,0.97],[0.53,0.98],[0.58,0.96],[0.63,0.98],[0.67,0.97],[0.72,0.98],[0.77,0.96],[0.81,0.98],[0.86,0.97],[0.90,0.98],[0.95,0.96],[0.99,0.98],[1.04,0.97],[1.08,0.98],[1.13,0.96],[1.17,0.98],[1.22,0.96],[1.26,0.97],[1.31,0.96],[1.36,0.95],[1.40,0.97],[1.46,0.95],[1.51,0.96],
[0.40,0.92],[0.44,0.93],[0.49,0.91],[0.54,0.93],[0.58,0.92],[0.63,0.93],[0.68,0.91],[0.72,0.93],[0.77,0.92],[0.81,0.93],[0.86,0.91],[0.90,0.93],[0.95,0.92],[0.99,0.93],[1.04,0.91],[1.08,0.93],[1.13,0.92],[1.17,0.93],[1.22,0.91],[1.26,0.93],[1.31,0.92],[1.36,0.91],[1.41,0.93],[1.46,0.91],[1.51,0.92],[1.56,0.91],[1.61,0.92],[1.67,0.90],
[0.38,0.87],[0.43,0.88],[0.47,0.86],[0.52,0.88],[0.56,0.87],[0.61,0.88],[0.65,0.86],[0.70,0.88],[0.74,0.87],[0.79,0.88],[0.83,0.86],[0.88,0.88],[0.92,0.87],[0.97,0.88],[1.01,0.86],[1.06,0.88],[1.10,0.87],[1.15,0.88],[1.19,0.86],[1.24,0.88],[1.28,0.87],[1.33,0.88],[1.37,0.86],[1.42,0.88],[1.47,0.86],[1.52,0.87],[1.57,0.86],[1.61,0.87],[1.66,0.85],[1.72,0.86],[1.78,0.85],[1.84,0.86],
[0.33,0.82],[0.38,0.83],[0.42,0.81],[0.46,0.83],[0.50,0.82],[0.55,0.83],[0.59,0.81],[0.63,0.83],[0.68,0.82],[0.72,0.83],[0.76,0.81],[0.81,0.83],[0.85,0.82],[0.90,0.83],[0.94,0.81],[0.99,0.83],[1.03,0.82],[1.08,0.83],[1.12,0.81],[1.17,0.83],[1.21,0.82],[1.26,0.83],[1.30,0.81],[1.35,0.83],[1.39,0.82],[1.44,0.83],[1.49,0.81],[1.53,0.83],[1.58,0.82],[1.63,0.81],[1.68,0.82],[1.73,0.80],[1.79,0.82],[1.85,0.80],[1.91,0.81],[1.98,0.80],
[0.33,0.77],[0.37,0.78],[0.41,0.76],[0.45,0.78],[0.49,0.77],[0.54,0.78],[0.58,0.76],[0.62,0.78],[0.67,0.77],[0.71,0.78],[0.75,0.76],[0.80,0.78],[0.84,0.77],[0.89,0.78],[0.93,0.76],[0.98,0.78],[1.02,0.77],[1.07,0.78],[1.11,0.76],[1.16,0.78],[1.20,0.77],[1.25,0.78],[1.29,0.76],[1.34,0.78],[1.38,0.77],[1.43,0.78],[1.47,0.76],[1.52,0.78],[1.56,0.77],[1.61,0.76],[1.65,0.77],[1.70,0.76],[1.75,0.77],[1.80,0.75],[1.85,0.77],[1.90,0.75],[1.96,0.76],[2.02,0.75],[2.09,0.76],
[0.32,0.72],[0.37,0.73],[0.41,0.71],[0.45,0.73],[0.50,0.72],[0.54,0.73],[0.58,0.71],[0.63,0.73],[0.67,0.72],[0.71,0.73],[0.76,0.71],[0.80,0.73],[0.85,0.72],[0.89,0.73],[0.94,0.71],[0.98,0.73],[1.03,0.72],[1.07,0.73],[1.12,0.71],[1.16,0.73],[1.21,0.72],[1.25,0.73],[1.30,0.71],[1.34,0.73],[1.39,0.72],[1.43,0.73],[1.48,0.71],[1.52,0.73],[1.57,0.72],[1.61,0.71],[1.66,0.72],[1.70,0.71],[1.75,0.72],[1.80,0.70],[1.85,0.72],[1.90,0.70],[1.95,0.72],[2.00,0.70],[2.05,0.71],[2.11,0.70],[2.18,0.71],
[0.33,0.67],[0.37,0.68],[0.41,0.66],[0.46,0.68],[0.50,0.67],[0.54,0.68],[0.59,0.66],[0.63,0.68],[0.67,0.67],[0.72,0.68],[0.76,0.66],[0.81,0.68],[0.85,0.67],[0.90,0.68],[0.94,0.66],[0.99,0.68],[1.03,0.67],[1.08,0.68],[1.12,0.66],[1.17,0.68],[1.21,0.67],[1.26,0.68],[1.30,0.66],[1.35,0.68],[1.39,0.67],[1.44,0.68],[1.48,0.66],[1.53,0.68],[1.57,0.67],[1.62,0.66],[1.66,0.67],[1.71,0.66],[1.75,0.67],[1.80,0.65],[1.85,0.67],[1.90,0.65],[1.95,0.67],[2.00,0.65],[2.05,0.67],[2.11,0.65],[2.17,0.66],[2.24,0.65],
[0.32,0.62],[0.37,0.63],[0.41,0.61],[0.45,0.63],[0.50,0.62],[0.54,0.63],[0.58,0.61],[0.63,0.63],[0.67,0.62],[0.71,0.63],[0.76,0.61],[0.80,0.63],[0.85,0.62],[0.89,0.63],[0.94,0.61],[0.98,0.63],[1.03,0.62],[1.07,0.63],[1.12,0.61],[1.16,0.63],[1.21,0.62],[1.25,0.63],[1.30,0.61],[1.34,0.63],[1.39,0.62],[1.43,0.63],[1.48,0.61],[1.52,0.63],[1.57,0.62],[1.61,0.61],[1.66,0.62],[1.70,0.61],[1.75,0.62],[1.80,0.60],[1.85,0.62],[1.90,0.60],[1.95,0.62],[2.00,0.60],[2.05,0.62],[2.10,0.60],[2.15,0.62],[2.21,0.60],[2.27,0.61],[2.33,0.60],
[0.33,0.57],[0.37,0.58],[0.41,0.56],[0.46,0.58],[0.50,0.57],[0.54,0.58],[0.59,0.56],[0.63,0.58],[0.67,0.57],[0.72,0.58],[0.76,0.56],[0.81,0.58],[0.85,0.57],[0.90,0.58],[0.94,0.56],[0.99,0.58],[1.03,0.57],[1.08,0.58],[1.12,0.56],[1.17,0.58],[1.21,0.57],[1.26,0.58],[1.30,0.56],[1.35,0.58],[1.39,0.57],[1.44,0.58],[1.48,0.56],[1.53,0.58],[1.57,0.57],[1.62,0.56],[1.66,0.57],[1.71,0.56],[1.75,0.57],[1.80,0.55],[1.85,0.57],[1.90,0.55],[1.95,0.57],[2.00,0.55],[2.05,0.57],[2.10,0.55],[2.15,0.57],[2.21,0.55],[2.28,0.56],
[0.32,0.52],[0.37,0.53],[0.41,0.51],[0.45,0.53],[0.50,0.52],[0.54,0.53],[0.58,0.51],[0.63,0.53],[0.67,0.52],[0.71,0.53],[0.76,0.51],[0.80,0.53],[0.85,0.52],[0.89,0.53],[0.94,0.51],[0.98,0.53],[1.03,0.52],[1.07,0.53],[1.12,0.51],[1.16,0.53],[1.21,0.52],[1.25,0.53],[1.30,0.51],[1.34,0.53],[1.39,0.52],[1.43,0.53],[1.48,0.51],[1.52,0.53],[1.57,0.52],[1.61,0.51],[1.66,0.52],[1.70,0.51],[1.75,0.52],[1.80,0.50],[1.85,0.52],[1.90,0.50],[1.95,0.52],[2.00,0.50],[2.05,0.52],[2.10,0.50],[2.15,0.52],[2.21,0.50],
[0.33,0.47],[0.37,0.48],[0.41,0.46],[0.46,0.48],[0.50,0.47],[0.54,0.48],[0.59,0.46],[0.63,0.48],[0.67,0.47],[0.72,0.48],[0.76,0.46],[0.81,0.48],[0.85,0.47],[0.90,0.48],[0.94,0.46],[0.99,0.48],[1.03,0.47],[1.08,0.48],[1.12,0.46],[1.17,0.48],[1.21,0.47],[1.26,0.48],[1.30,0.46],[1.35,0.48],[1.39,0.47],[1.44,0.48],[1.48,0.46],[1.53,0.48],[1.57,0.47],[1.62,0.46],[1.66,0.47],[1.71,0.46],[1.75,0.47],[1.80,0.45],[1.85,0.47],[1.90,0.45],[1.95,0.47],[2.00,0.45],[2.05,0.47],[2.10,0.45],[2.16,0.47],[2.21,0.45],
[0.32,0.42],[0.37,0.43],[0.41,0.41],[0.45,0.43],[0.50,0.42],[0.54,0.43],[0.58,0.41],[0.63,0.43],[0.67,0.42],[0.71,0.43],[0.76,0.41],[0.80,0.43],[0.85,0.42],[0.89,0.43],[0.94,0.41],[0.98,0.43],[1.03,0.42],[1.07,0.43],[1.12,0.41],[1.16,0.43],[1.21,0.42],[1.25,0.43],[1.30,0.41],[1.34,0.43],[1.39,0.42],[1.43,0.43],[1.48,0.41],[1.52,0.43],[1.57,0.42],[1.61,0.41],[1.66,0.42],[1.70,0.41],[1.75,0.42],[1.80,0.40],[1.85,0.42],[1.90,0.40],[1.95,0.42],[2.00,0.40],[2.05,0.42],[2.11,0.40],[2.17,0.41],
[0.33,0.37],[0.37,0.38],[0.41,0.36],[0.46,0.38],[0.50,0.37],[0.54,0.38],[0.59,0.36],[0.63,0.38],[0.67,0.37],[0.72,0.38],[0.76,0.36],[0.81,0.38],[0.85,0.37],[0.90,0.38],[0.94,0.36],[0.99,0.38],[1.03,0.37],[1.08,0.38],[1.12,0.36],[1.17,0.38],[1.21,0.37],[1.26,0.38],[1.30,0.36],[1.35,0.38],[1.39,0.37],[1.44,0.38],[1.48,0.36],[1.53,0.38],[1.57,0.37],[1.62,0.36],[1.66,0.37],[1.71,0.36],[1.75,0.37],[1.80,0.35],[1.85,0.37],[1.90,0.35],[1.95,0.37],[2.00,0.35],[2.05,0.37],[2.11,0.35],[2.17,0.37],
[0.35,0.32],[0.39,0.33],[0.43,0.31],[0.48,0.33],[0.52,0.32],[0.56,0.33],[0.61,0.31],[0.65,0.33],[0.69,0.32],[0.74,0.33],[0.78,0.31],[0.83,0.33],[0.87,0.32],[0.92,0.33],[0.96,0.31],[1.01,0.33],[1.05,0.32],[1.10,0.33],[1.14,0.31],[1.19,0.33],[1.23,0.32],[1.28,0.33],[1.32,0.31],[1.37,0.33],[1.41,0.32],[1.46,0.33],[1.50,0.31],[1.55,0.33],[1.59,0.32],[1.64,0.31],[1.68,0.32],[1.73,0.31],[1.77,0.32],[1.82,0.30],[1.87,0.32],[1.92,0.30],[1.97,0.32],[2.02,0.30],[2.08,0.32],[2.14,0.30],
[0.37,0.27],[0.41,0.28],[0.45,0.26],[0.50,0.28],[0.54,0.27],[0.58,0.28],[0.63,0.26],[0.67,0.28],[0.71,0.27],[0.76,0.28],[0.80,0.26],[0.85,0.28],[0.89,0.27],[0.94,0.28],[0.98,0.26],[1.03,0.28],[1.07,0.27],[1.12,0.28],[1.16,0.26],[1.21,0.28],[1.25,0.27],[1.30,0.28],[1.34,0.26],[1.39,0.28],[1.43,0.27],[1.48,0.28],[1.52,0.26],[1.57,0.28],[1.61,0.27],[1.66,0.26],[1.70,0.27],[1.75,0.26],[1.79,0.27],[1.84,0.25],[1.89,0.27],[1.94,0.25],[1.99,0.27],[2.05,0.25],[2.11,0.27],[2.17,0.26],
[0.38,0.22],[0.42,0.23],[0.46,0.21],[0.51,0.23],[0.55,0.22],[0.59,0.23],[0.64,0.21],[0.68,0.23],[0.72,0.22],[0.77,0.23],[0.81,0.21],[0.86,0.23],[0.90,0.22],[0.95,0.23],[0.99,0.21],[1.04,0.23],[1.08,0.22],[1.13,0.23],[1.17,0.21],[1.22,0.23],[1.26,0.22],[1.31,0.23],[1.35,0.21],[1.40,0.23],[1.44,0.22],[1.49,0.23],[1.53,0.21],[1.58,0.23],[1.62,0.22],[1.67,0.21],[1.71,0.22],[1.76,0.21],[1.81,0.22],[1.86,0.20],[1.91,0.22],[1.96,0.20],[2.01,0.22],[2.07,0.20],[2.13,0.21],
[0.38,0.17],[0.42,0.18],[0.46,0.16],[0.51,0.18],[0.55,0.17],[0.59,0.18],[0.64,0.16],[0.68,0.18],[0.72,0.17],[0.77,0.18],[0.81,0.16],[0.86,0.18],[0.90,0.17],[0.95,0.18],[0.99,0.16],[1.04,0.18],[1.08,0.17],[1.13,0.18],[1.17,0.16],[1.22,0.18],[1.26,0.17],[1.31,0.18],[1.35,0.16],[1.40,0.18],[1.44,0.17],[1.49,0.18],[1.53,0.16],[1.58,0.18],[1.62,0.17],[1.67,0.16],[1.71,0.17],[1.76,0.16],[1.81,0.17],[1.86,0.15],[1.91,0.17],[1.97,0.15],[2.03,0.17],[2.10,0.16],
[0.42,0.12],[0.46,0.13],[0.50,0.11],[0.55,0.13],[0.59,0.12],[0.63,0.13],[0.68,0.11],[0.72,0.13],[0.76,0.12],[0.81,0.13],[0.85,0.11],[0.90,0.13],[0.94,0.12],[0.99,0.13],[1.03,0.11],[1.08,0.13],[1.12,0.12],[1.17,0.13],[1.21,0.11],[1.26,0.13],[1.30,0.12],[1.35,0.13],[1.39,0.11],[1.44,0.13],[1.48,0.12],[1.53,0.13],[1.57,0.11],[1.62,0.13],[1.66,0.12],[1.71,0.11],[1.75,0.12],[1.80,0.11],[1.85,0.12],[1.91,0.10],[1.98,0.12],[2.06,0.11],
[0.44,0.07],[0.48,0.08],[0.52,0.06],[0.57,0.08],[0.61,0.07],[0.65,0.08],[0.70,0.06],[0.74,0.08],[0.78,0.07],[0.83,0.08],[0.87,0.06],[0.92,0.08],[0.96,0.07],[1.01,0.08],[1.05,0.06],[1.10,0.08],[1.14,0.07],[1.19,0.08],[1.23,0.06],[1.28,0.08],[1.32,0.07],[1.37,0.08],[1.41,0.06],[1.46,0.08],[1.50,0.07],[1.55,0.08],[1.60,0.06],[1.64,0.08],[1.69,0.07],[1.74,0.06],[1.80,0.07],[1.86,0.05],[1.93,0.07],[2.02,0.06],
[0.45,0.02],[0.50,0.03],[0.55,0.01],[0.61,0.03],[0.66,0.02],[0.71,0.03],[0.75,0.01],[0.80,0.03],[0.86,0.02],[0.91,0.03],[0.95,0.01],[1.00,0.03],[1.05,0.02],[1.10,0.03],[1.15,0.01],[1.20,0.03],[1.27,0.02],[1.32,0.03],[1.37,0.01],[1.42,0.03],[1.48,0.02],[1.54,0.01],[1.60,0.03],[1.66,0.01],[1.74,0.02],[1.82,0.01],[1.90,0.02],
[0.50,-0.03],[0.56,-0.04],[0.62,-0.02],[0.68,-0.04],[0.74,-0.03],[0.80,-0.04],[0.86,-0.02],[0.92,-0.04],[0.97,-0.03],[1.03,-0.04],[1.10,-0.02],[1.16,-0.04],[1.22,-0.03],[1.29,-0.04],[1.36,-0.02],[1.43,-0.04],[1.51,-0.03],[1.60,-0.04],[1.69,-0.02],[1.80,-0.04],
[0.48,-0.09],[0.55,-0.10],[0.61,-0.08],[0.68,-0.10],[0.74,-0.09],[0.80,-0.10],[0.86,-0.08],[0.93,-0.10],[0.98,-0.09],[1.04,-0.10],[1.10,-0.08],[1.17,-0.10],[1.23,-0.09],[1.30,-0.10],[1.36,-0.08],[1.44,-0.10],[1.52,-0.09],[1.62,-0.10],[1.70,-0.08],[1.78,-0.10],
[0.47,-0.18],[0.54,-0.19],[0.62,-0.17],[0.69,-0.19],[0.75,-0.18],[0.83,-0.19],[0.90,-0.17],[0.97,-0.19],[1.03,-0.18],[1.11,-0.19],[1.18,-0.17],[1.25,-0.19],[1.33,-0.18],[1.41,-0.19],[1.52,-0.17],[1.63,-0.19],[1.72,-0.18],
[0.45,-0.25],[0.53,-0.26],[0.60,-0.24],[0.68,-0.26],[0.76,-0.25],[0.84,-0.26],[0.91,-0.24],[1.00,-0.26],[1.07,-0.25],[1.17,-0.26],[1.25,-0.24],[1.33,-0.26],[1.42,-0.25],[1.54,-0.26],[1.68,-0.25],[1.80,-0.26],
[0.48,-0.35],[0.58,-0.36],[0.67,-0.34],[0.76,-0.37],[0.85,-0.35],[0.95,-0.36],[1.06,-0.34],[1.16,-0.37],[1.27,-0.35],[1.40,-0.36],[1.55,-0.34],[1.70,-0.37],[1.84,-0.35]
];

// the two highlighted objects (diameter km, spin rate rev/day)
const kp24 = { diameter: 0.020, spin: 590 };
const kt42 = { diameter: 0.006, spin: 400 };

const xTickExponents = [-3, -2, -1, 0, 1, 2, 3];
const yTickExponents = [-2, -1, 0, 1, 2, 3, 4];
const legendLabels = ['MBAs', 'NEAs', '2012 KP24', '2012 KT42'];

class spinChart {

    constructor(config, data) {
        this.config = {
            parent: config.parent,
            width: config.width || 1148,
            height: config.height || 909,
            margin: config.margin || { top: 27, right: 32, bottom: 96, left: 119 }
        };
        this.data = data;
        this.init();
    }

    init() {
        let self = this;

        self.svg = d3.select(self.config.parent)
            .attr('width', self.config.width)
            .attr('height', self.config.height);
        self.chart = self.svg.append('g')
            .attr('transform', `translate(${self.config.margin.left}, ${self.config.margin.top})`);

        self.inner_width = self.config.width - self.config.margin.left - self.config.margin.right;
        self.inner_height = self.config.height - self.config.margin.top - self.config.margin.bottom;

        self.xscale = d3.scaleLog()
            .domain([1e-3, 1e3])
            .range([0, self.inner_width]);
        self.yscale = d3.scaleLog()
            .domain([1e-2, 1e4])
            .range([self.inner_height, 0]);
    }

    render() {
        let self = this;
        const w = self.inner_width, h = self.inner_height;
        const isPow10 = v => Math.abs(Math.log10(v) - Math.round(Math.log10(v))) < 1e-9;

        // points: MBAs under NEAs
        const dot = (pts, r, fill) => self.chart.append('g')
            .selectAll('circle')
            .data(pts)
            .join('circle')
            .attr('cx', d => self.xscale(10 ** d[0]))
            .attr('cy', d => self.yscale(10 ** d[1]))
            .attr('r', r)
            .attr('fill', fill);
        dot(self.data.mba, 3.5, '#000');
        dot(self.data.nea, 4.2, '#808080');

        self.chart.append('path')
            .attr('d', d3.symbol(d3.symbolSquare, 23 * 23)())
            .attr('transform', `translate(${self.xscale(kp24.diameter)}, ${self.yscale(kp24.spin)})`)
            .attr('fill', '#000');
        self.chart.append('path')
            .attr('d', d3.symbol(d3.symbolStar, 344)())
            .attr('transform', `translate(${self.xscale(kt42.diameter)}, ${self.yscale(kt42.spin)})`)
            .attr('fill', '#000');

        // inward ticks on all four sides
        const sides = [
            [d3.axisBottom, `translate(0, ${h})`, self.xscale],
            [d3.axisTop, 'translate(0, 0)', self.xscale],
            [d3.axisLeft, 'translate(0, 0)', self.yscale],
            [d3.axisRight, `translate(${w}, 0)`, self.yscale]
        ];
        sides.forEach(([axis, tr, sc]) => {
            const all = sc.ticks();
            [[all.filter(isPow10), 9], [all.filter(v => !isPow10(v)), 5]].forEach(([vals, len]) => {
                self.chart.append('g')
                    .attr('transform', tr)
                    .call(axis(sc).tickValues(vals).tickSize(-len).tickFormat(''))
                    .call(g => g.select('.domain').remove())
                    .call(g => g.selectAll('line').attr('stroke', '#000').attr('stroke-width', 1.2));
            });
        });

        self.chart.append('rect')
            .attr('width', w)
            .attr('height', h)
            .attr('fill', 'none')
            .attr('stroke', '#000')
            .attr('stroke-width', 2);

        // tick labels 10^n
        const powLabel = (g, e) => {
            g.append('tspan').text('10');
            g.append('tspan').attr('font-size', 22).attr('dy', -14)
                .text(e < 0 ? '\u2212' + (-e) : String(e));
        };
        xTickExponents.forEach(e => {
            self.chart.append('text')
                .attr('x', self.xscale(10 ** e))
                .attr('y', h + 45)
                .attr('text-anchor', 'middle')
                .attr('font-size', 32)
                .call(powLabel, e);
        });
        yTickExponents.forEach(e => {
            self.chart.append('text')
                .attr('x', -19)
                .attr('y', self.yscale(10 ** e) + 11.5)
                .attr('text-anchor', 'end')
                .attr('font-size', 32)
                .call(powLabel, e);
        });

        // axis titles
        self.svg.append('text')
            .attr('x', self.config.margin.left + w / 2)
            .attr('y', 894)
            .attr('text-anchor', 'middle')
            .attr('font-size', 32)
            .text('diameter [km]');
        self.svg.append('text')
            .attr('transform', `translate(34, ${self.config.margin.top + h / 2}) rotate(-90)`)
            .attr('text-anchor', 'middle')
            .attr('font-size', 32)
            .text('spin rate [revolution per day]');

        // legend
        const legend = self.svg.append('g');
        legend.append('rect')
            .attr('x', 849).attr('y', 39)
            .attr('width', 256).attr('height', 161)
            .attr('fill', '#fff')
            .attr('stroke', '#000')
            .attr('stroke-width', 1.5);
        const rows = [62, 100, 139, 177];
        legend.append('circle').attr('cx', 896).attr('cy', rows[0]).attr('r', 3.2).attr('fill', '#000');
        legend.append('circle').attr('cx', 896).attr('cy', rows[1]).attr('r', 4.2).attr('fill', '#808080');
        legend.append('path')
            .attr('d', d3.symbol(d3.symbolSquare, 22 * 22)())
            .attr('transform', `translate(896, ${rows[2]})`);
        legend.append('path')
            .attr('d', d3.symbol(d3.symbolStar, 320)())
            .attr('transform', `translate(893, ${rows[3]})`);
        legend.selectAll('text.lab')
            .data(legendLabels)
            .join('text')
            .attr('class', 'lab')
            .attr('x', 936)
            .attr('y', (d, i) => rows[i] + 11)
            .attr('font-size', 31)
            .text(d => d);
    }

}

const chart = new spinChart({ parent: '#drawing_region' }, {
    mba: mbaSparseLog.concat(mbaCloudLog, mbaCloudFillLog),
    nea: neaLog.concat(neaBandLog)
});
chart.render();
</script>
</body>
</html>
